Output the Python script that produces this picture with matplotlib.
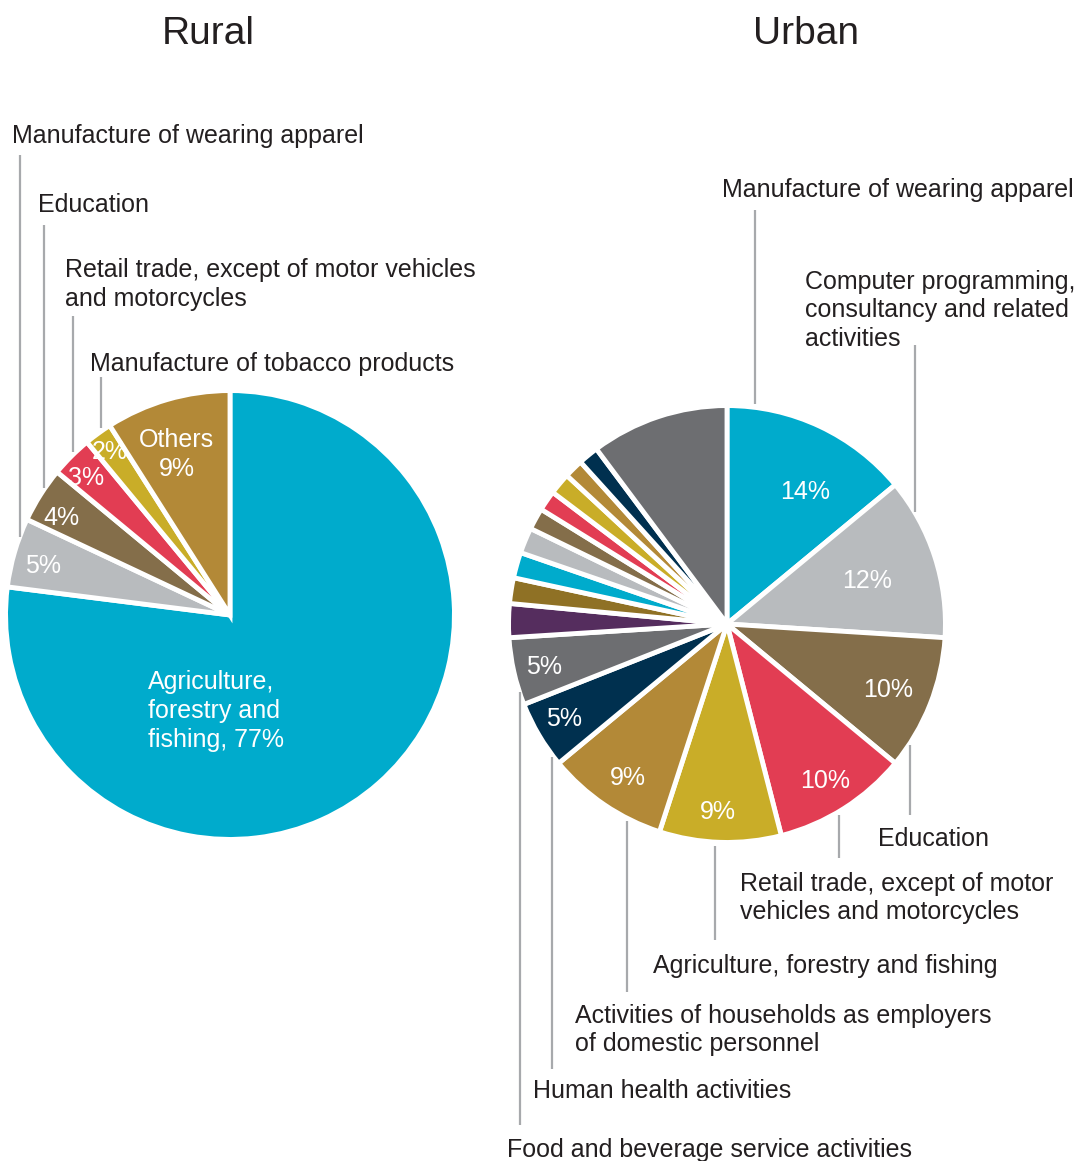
import math

import matplotlib

matplotlib.use("Agg")
import matplotlib.pyplot as plt

W, H = 1081, 1161
plt.rcParams["font.family"] = ["Liberation Sans", "DejaVu Sans"]

TEAL = "#00abcc"
LGREY = "#b8bbbe"
BROWN = "#846e4a"
RED = "#e23d53"
YELLOW = "#c9ad28"
GOLD = "#b38937"
NAVY = "#00304f"
DGREY = "#6d6e71"
PURPLE = "#552d5e"
OLIVE = "#8f7125"
INK = "#231f20"
LEADER = "#a7a9ac"

# Rural: shares (%) clockwise from 12 o'clock
rural_share = [77, 5, 4, 3, 2, 9]
rural_colors = [TEAL, LGREY, BROWN, RED, YELLOW, GOLD]
rural_pct = ["Agriculture,\nforestry and\nfishing, 77%", "5%", "4%", "3%", "2%", "Others\n9%"]
# (distance from centre in radii, turn away from the wedge middle in degrees)
rural_pct_pos = [None, (0.875, 1), (0.88, 2), (0.9, 1), (0.92, 0), (0.77, 2)]

rural_names = [
    "Manufacture of wearing apparel",
    "Education",
    "Retail trade, except of motor vehicles\nand motorcycles",
    "Manufacture of tobacco products",
]

# Urban: shares (%) clockwise from 12 o'clock
urban_share = [14, 12, 10, 10, 9, 9, 5, 5,
               2.5, 1.9, 1.9, 1.9, 1.6, 1.5, 1.6, 1.4, 1.5, 10.2]
urban_colors = [TEAL, LGREY, BROWN, RED, YELLOW, GOLD, NAVY, DGREY,
                PURPLE, OLIVE, TEAL, LGREY, BROWN, RED, YELLOW, GOLD, NAVY, DGREY]
urban_pct = ["14%", "12%", "10%", "10%", "9%", "9%", "5%", "5%"]
urban_pct_pos = [(0.72, -5), (0.68, 0), (0.80, 0), (0.85, 0),
                 (0.86, -1), (0.84, 1), (0.87, -1), (0.87, 0)]

urban_names_top = [
    "Manufacture of wearing apparel",
    "Computer programming,\nconsultancy and related\nactivities",
]
urban_names_bottom = [
    "Education",
    "Retail trade, except of motor\nvehicles and motorcycles",
    "Agriculture, forestry and fishing",
    "Activities of households as employers\nof domestic personnel",
    "Human health activities",
    "Food and beverage service activities",
]

EDGE_PT = 3.5
EDGE_PX = EDGE_PT * 100 / 72
FS = 18
LS = 1.24
GAP = 6


def draw_pie(ax, shares, colors, cx, cy, r):
    wedges, _ = ax.pie(
        shares, colors=colors, startangle=90, counterclock=False,
        radius=r + EDGE_PX / 2, center=(cx, H - cy),
        wedgeprops=dict(edgecolor="white", linewidth=EDGE_PT),
    )
    return wedges


def pct_text(ax, wedge, text, pos, cx, cy, r):
    dist, turn = pos
    ang = math.radians((wedge.theta1 + wedge.theta2) / 2 + turn)
    x = cx + dist * r * math.cos(ang)
    y = cy - dist * r * math.sin(ang) + 2
    ax.text(x, H - y, text, ha="center", va="center", color="white",
            fontsize=FS, linespacing=LS)


def block(ax, text, x, y_first, **kw):
    # y_first is the middle of the first line's capitals, image coords
    ax.text(x, H - y_first + 9.5, text, ha="left", va="top", color=INK,
            fontsize=FS, linespacing=LS, **kw)


def leader(ax, x, y_text, cx, cy, r, above):
    half = math.sqrt(max(r * r - (x - cx) ** 2, 0))
    if above:
        y0, y1 = y_text, cy - half - GAP
    else:
        y0, y1 = cy + half + GAP, y_text
    ax.plot([x, x], [H - y0, H - y1], color=LEADER, lw=1.6,
            solid_capstyle="butt")


fig = plt.figure(figsize=(W / 100, H / 100), dpi=100)
ax = fig.add_axes([0, 0, 1, 1])

# --- Rural ---
rcx, rcy, rr = 230, 615, 222
rw = draw_pie(ax, rural_share, rural_colors, rcx, rcy, rr)
for w, t, p in zip(rw, rural_pct, rural_pct_pos):
    if p is None:
        ax.text(rcx - 0.37 * rr, H - 680 + 9.5, t, ha="left", va="top",
                color="white", fontsize=FS, linespacing=LS)
    else:
        pct_text(ax, w, t, p, rcx, rcy, rr)

rural_text_xy = [(12, 133), (38, 202), (65, 268), (90, 361)]
rural_line = [(20, 155), (44, 225), (73, 316), (101, 377)]
for name, (tx, ty), (lx, ly) in zip(rural_names, rural_text_xy, rural_line):
    block(ax, name, tx, ty)
    leader(ax, lx, ly, rcx, rcy, rr, above=True)

# --- Urban ---
ucx, ucy, ur = 727, 624, 216
uw = draw_pie(ax, urban_share, urban_colors, ucx, ucy, ur)
for w, t, p in zip(uw, urban_pct, urban_pct_pos):
    pct_text(ax, w, t, p, ucx, ucy, ur)

urban_top_xy = [(722, 187), (805, 279)]
urban_top_line = [(755, 210), (915, 345)]
for name, (tx, ty), (lx, ly) in zip(urban_names_top, urban_top_xy, urban_top_line):
    block(ax, name, tx, ty)
    leader(ax, lx, ly, ucx, ucy, ur, above=True)

urban_bot_xy = [(878, 837), (740, 881), (653, 964), (575, 1013), (533, 1089), (507, 1147)]
urban_bot_line = [(910, 815), (839, 858), (715, 940), (627, 992), (552, 1069), (520, 1125)]
for name, (tx, ty), (lx, ly) in zip(urban_names_bottom, urban_bot_xy, urban_bot_line):
    block(ax, name, tx, ty)
    leader(ax, lx, ly, ucx, ucy, ur, above=False)

# titles
ax.text(208, H - 44, "Rural", ha="center", va="baseline", color=INK, fontsize=28)
ax.text(806, H - 44, "Urban", ha="center", va="baseline", color=INK, fontsize=28)

ax.set_xlim(0, W)
ax.set_ylim(0, H)
ax.set_aspect("equal")
ax.axis("off")

fig.savefig("out.png", dpi=100, facecolor="white")
